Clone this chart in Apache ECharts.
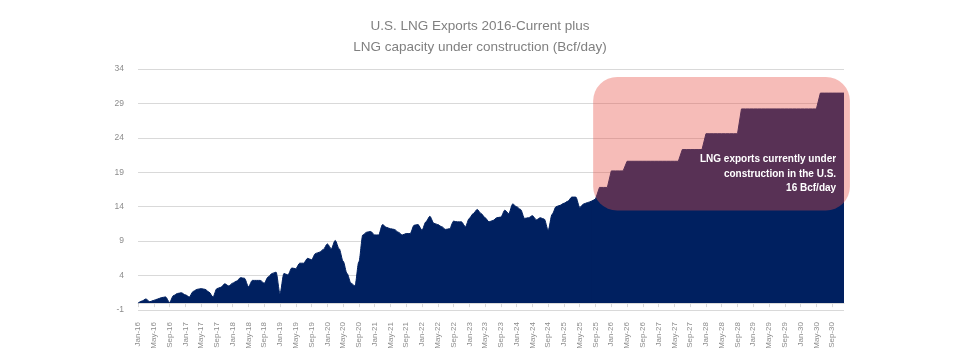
<!DOCTYPE html>
<html><head><meta charset="utf-8">
<script src="https://cdn.jsdelivr.net/npm/echarts@6/dist/echarts.min.js"></script>
<style>html,body{margin:0;padding:0;background:#fff}#c{width:960px;height:360px}</style>
</head><body><div id="c"></div>
<script>
// ---- data ----
const monthNames = ['Jan','Feb','Mar','Apr','May','Jun','Jul','Aug','Sep','Oct','Nov','Dec'];
const yearLabels = ['16','17','18','19','20','21','22','23','24','25','26','27','28','29','30'];
const categories = [];
yearLabels.forEach(function (y) { monthNames.forEach(function (m) { categories.push(m + '-' + y); }); });

// Actual monthly LNG exports, Jan-16 .. Sep-25 (Bcf/day)
const exportsActual = [
  0.0, 0.3, 0.6, 0.2, 0.4, 0.6, 0.8, 0.9, 0.1, 1.1, 1.4, 1.5,
  1.2, 0.9, 1.7, 2.0, 2.1, 2.0, 1.6, 0.9, 2.1, 2.3, 2.8, 2.5,
  2.9, 3.2, 3.7, 3.6, 2.4, 3.3, 3.3, 3.3, 2.9, 3.8, 4.3, 4.5,
  1.4, 4.3, 4.1, 5.1, 5.0, 5.8, 5.8, 6.5, 6.3, 7.2, 7.4, 7.8,
  8.6, 7.9, 9.1, 7.9, 6.1, 4.3, 2.9, 2.5, 6.0, 9.9, 10.3, 10.4,
  9.9, 9.9, 11.4, 11.0, 10.8, 10.7, 10.3, 9.9, 10.1, 10.1, 11.3, 11.4,
  10.6, 11.8, 12.6, 11.6, 11.4, 11.1, 10.7, 10.8, 11.9, 11.8, 11.8, 11.1,
  12.3, 13.0, 13.6, 13.0, 12.4, 11.8, 12.0, 12.4, 12.5, 13.5, 13.0, 14.4,
  14.0, 13.6, 12.3, 12.4, 12.7, 12.1, 12.4, 12.2, 10.6, 12.9, 14.0, 14.2,
  14.5, 14.8, 15.4, 15.4, 13.9, 14.4, 14.6, 14.8, 15.1
];
// Exports plus capacity under construction, Oct-25 .. Dec-30 (Bcf/day)
const withConstruction = [
  16.8, 16.8, 16.8,
  19.2, 19.2, 19.2, 19.2,
  20.6, 20.6, 20.6, 20.6, 20.6, 20.6, 20.6, 20.6, 20.6, 20.6, 20.6, 20.6, 20.6, 20.6,
  22.3, 22.3, 22.3, 22.3, 22.3, 22.3,
  24.6, 24.6, 24.6, 24.6, 24.6, 24.6, 24.6, 24.6, 24.6,
  28.2, 28.2, 28.2, 28.2, 28.2, 28.2, 28.2, 28.2, 28.2, 28.2,
  28.2, 28.2, 28.2, 28.2, 28.2, 28.2, 28.2, 28.2, 28.2, 28.2,
  30.5, 30.5, 30.5, 30.5, 30.5, 30.5, 30.5
];
const yMin = -1, yMax = 34, yStep = 5;
const titleLines = ['U.S. LNG Exports 2016-Current plus', 'LNG capacity under construction (Bcf/day)'];
const noteLines = ['LNG exports currently under', 'construction in the U.S.', '16 Bcf/day'];

// ---- chart ----
const FONT = '"Liberation Sans", Arial, sans-serif';
const NAVY = '#002060';
const nA = exportsActual.length;
const actualSeries = exportsActual.slice();
// future series overlaps the last two actual months so no seam shows
const futureSeries = exportsActual.map(function (v, i) { return i >= nA - 2 ? v : '-'; }).concat(withConstruction);

const chart = echarts.init(document.getElementById('c'), null, { renderer: 'canvas' });
chart.setOption({
  animation: false,
  backgroundColor: '#ffffff',
  title: {
    text: titleLines.join('\n'), left: 'center', top: 15, padding: 0,
    textStyle: { fontFamily: FONT, fontSize: 13.5, fontWeight: 'normal', color: '#808080', lineHeight: 21.6 }
  },
  grid: { left: 138, right: 116, top: 69, bottom: 50 },
  xAxis: {
    type: 'category', data: categories, boundaryGap: false,
    axisLine: { onZero: true, lineStyle: { color: '#d9d9d9' } },
    axisTick: { interval: 3, length: 4, lineStyle: { color: '#d9d9d9' } },
    axisLabel: { interval: 3, rotate: 90, fontSize: 8, color: '#8c8c8c', margin: 12, fontFamily: FONT }
  },
  yAxis: {
    type: 'value', min: yMin, max: yMax, interval: yStep,
    axisLine: { show: false }, axisTick: { show: false },
    axisLabel: { fontSize: 8.5, color: '#8c8c8c', margin: 14, fontFamily: FONT },
    splitLine: { lineStyle: { color: '#d9d9d9', width: 1 } }
  },
  series: [{
    type: 'line', data: actualSeries, showSymbol: false, symbol: 'none', smooth: 0.3, smoothMonotone: 'x',
    lineStyle: { width: 1, color: NAVY }, itemStyle: { color: NAVY },
    areaStyle: { color: NAVY, opacity: 1 }
  }, {
    type: 'line', data: futureSeries, showSymbol: false, symbol: 'none',
    lineStyle: { width: 1, color: NAVY }, itemStyle: { color: NAVY },
    areaStyle: { color: NAVY, opacity: 1 }
  }]
});

// overlay box placed in data coordinates
const n = categories.length;
const pa = chart.convertToPixel({ gridIndex: 0 }, [0, 0]);
const pb = chart.convertToPixel({ gridIndex: 0 }, [n - 1, 0]);
function xOf(i) { return pa[0] + (pb[0] - pa[0]) * i / (n - 1); }
function yOf(v) { return chart.convertToPixel({ yAxisIndex: 0 }, v); }
const bx1 = xOf(115.4), bx2 = xOf(180.5), by1 = yOf(32.84), by2 = yOf(13.45);
chart.setOption({
  graphic: [
    { type: 'rect', z: 100, shape: { x: bx1, y: by1, width: bx2 - bx1, height: by2 - by1, r: 24 },
      style: { fill: 'rgba(232,78,68,0.38)' } },
    { type: 'text', z: 101, x: xOf(177), y: yOf(18.75),
      style: { text: noteLines.join('\n'), fill: '#ffffff', fontSize: 10, fontWeight: 'bold', fontFamily: FONT,
        align: 'right', textAlign: 'right', verticalAlign: 'middle', textVerticalAlign: 'middle', lineHeight: 14.5 } }
  ]
});
</script>
</body></html>
